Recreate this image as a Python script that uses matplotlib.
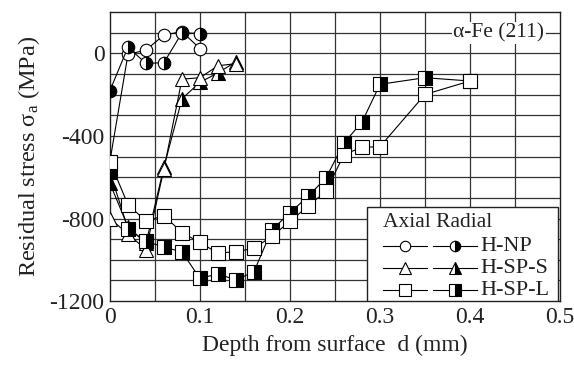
import matplotlib
matplotlib.use("Agg")
import matplotlib.pyplot as plt
from matplotlib.lines import Line2D
from matplotlib.patches import Rectangle

plt.rcParams['font.family'] = ['Liberation Serif', 'DejaVu Serif']
plt.rcParams['mathtext.fontset'] = 'custom'
plt.rcParams['mathtext.rm'] = 'Liberation Serif'
plt.rcParams['mathtext.it'] = 'Liberation Serif:italic'

# H-NP
np_ax_x = [0.0, 0.02, 0.04, 0.06, 0.08, 0.10]
np_ax_y = [-520, -5, 16, 89, 105, 23]
np_ra_x = [0.0, 0.02, 0.04, 0.06, 0.08, 0.10]
np_ra_y = [-180, 30, -49, -45, 100, 96]
# H-SP-S
sps_ax_x = [0.0, 0.02, 0.04, 0.06, 0.08, 0.10, 0.12, 0.14]
sps_ax_y = [-800, -875, -950, -560, -125, -118, -60, -50]
sps_ra_x = [0.0, 0.02, 0.04, 0.06, 0.08, 0.10, 0.12, 0.14]
sps_ra_y = [-630, -840, -920, -550, -220, -140, -95, -40]
# H-SP-L
spl_ax_x = [0.0, 0.02, 0.04, 0.06, 0.08, 0.10, 0.12, 0.14, 0.16, 0.18, 0.20,
            0.22, 0.24, 0.26, 0.28, 0.30, 0.35, 0.40]
spl_ax_y = [-525, -733, -812, -786, -868, -916, -968, -960, -945, -885, -814,
            -740, -668, -490, -455, -452, -199, -134]
spl_ra_x = [0.0, 0.02, 0.04, 0.06, 0.08, 0.10, 0.12, 0.14, 0.16, 0.18, 0.20,
            0.22, 0.24, 0.26, 0.28, 0.30, 0.35, 0.40]
spl_ra_y = [-575, -850, -911, -938, -962, -1090, -1068, -1098, -1057, -854, -772,
            -693, -603, -434, -333, -150, -118, -134]

x_ticks = [0, 0.1, 0.2, 0.3, 0.4, 0.5]
x_tick_labels = ['0', '0.1', '0.2', '0.3', '0.4', '0.5']
y_ticks = [-1200, -800, -400, 0]
y_tick_labels = ['-1200', '-800', '-400', '0']

fig = plt.figure(figsize=(5.74, 3.65), dpi=100)
ax = fig.add_axes([0.1916, 0.175, 0.784, 0.792])
ax.set_xlim(0, 0.5)
ax.set_ylim(-1200, 200)

for gx in [i * 0.05 for i in range(1, 10)]:
    ax.axvline(gx, color='#333333', lw=0.9, zorder=0)
for gy in range(-1100, 200, 100):
    ax.axhline(gy, color='#333333', lw=0.9, zorder=0)

lw = 0.8
common = dict(color='black', lw=lw, markeredgecolor='black', markeredgewidth=0.8)
open_kw = dict(markerfacecolor='white')
half_kw = dict(fillstyle='right', markerfacecolor='black', markerfacecoloralt='white')

ms_c, ms_t, ms_s = 9, 10.5, 10

ax.plot(np_ax_x, np_ax_y, marker='o', ms=ms_c, zorder=3, **common, **open_kw)
ax.plot(np_ra_x, np_ra_y, marker='o', ms=ms_c, zorder=3, **common, **half_kw)
ax.plot(sps_ra_x, sps_ra_y, marker='^', ms=ms_t, zorder=4, **common, **half_kw)
ax.plot(sps_ax_x, sps_ax_y, marker='^', ms=ms_t, zorder=4, **common, **open_kw)
ax.plot(spl_ra_x, spl_ra_y, marker='s', ms=ms_s, zorder=5, **common, **half_kw)
ax.plot(spl_ax_x, spl_ax_y, marker='s', ms=ms_s, zorder=5, **common, **open_kw)

ax.set_xticks(x_ticks)
ax.set_xticklabels(x_tick_labels)
ax.set_yticks(y_ticks)
ax.set_yticklabels(y_tick_labels)
ax.tick_params(length=0, labelsize=17, pad=4, colors='#222222')
for sp in ax.spines.values():
    sp.set_color('#222222')
    sp.set_linewidth(1.0)

ax.set_xlabel('Depth from surface  d (mm)', fontsize=17, color='#222222', labelpad=5)
ax.set_ylabel('Residual stress σ$_{\\rm a}$ (MPa)', fontsize=17.5, color='#222222', labelpad=5)

ax.text(0.432, 100, 'α-Fe (211)', fontsize=15.5, ha='center', va='center', color='#222222',
        bbox=dict(facecolor='white', edgecolor='none', pad=1), zorder=6)

# legend drawn manually
T = ax.transAxes
ax.add_patch(Rectangle((0.571, 0.0), 0.425, 0.325, transform=T, facecolor='white',
                       edgecolor='#222222', lw=1.0, zorder=10))
ax.text(0.607, 0.273, 'Axial Radial', transform=T, fontsize=15.5, ha='left', va='center',
        color='#222222', zorder=11)
rows = [('H-NP', 'o', ms_c), ('H-SP-S', '^', ms_t), ('H-SP-L', 's', ms_s)]
row_y = [0.190, 0.114, 0.038]
for (lab, mk, ms), yy in zip(rows, row_y):
    ax.add_line(Line2D([0.607, 0.704], [yy, yy], transform=T, zorder=11, color='black', lw=lw))
    ax.add_line(Line2D([0.656], [yy], transform=T, zorder=12, marker=mk, ms=ms - 1.5,
                       markeredgecolor='black', markeredgewidth=0.8, markerfacecolor='white', lw=0))
    ax.add_line(Line2D([0.718, 0.816], [yy, yy], transform=T, zorder=11, color='black', lw=lw))
    ax.add_line(Line2D([0.767], [yy], transform=T, zorder=12, marker=mk, ms=ms - 1.5,
                       markeredgecolor='black', markeredgewidth=0.8, lw=0, **half_kw))
    ax.text(0.822, yy, lab, transform=T, fontsize=16, ha='left', va='center',
            color='#222222', zorder=11)

fig.savefig('out.png', dpi=100)
